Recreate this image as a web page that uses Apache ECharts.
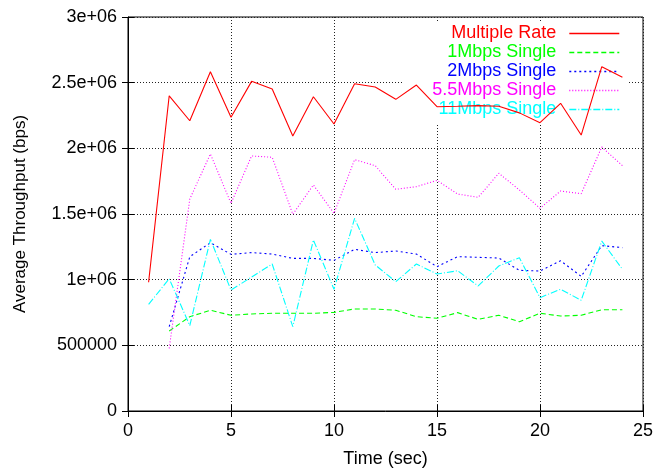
<!DOCTYPE html>
<html>
<head>
<meta charset="utf-8">
<script src="https://cdn.jsdelivr.net/npm/echarts@6/dist/echarts.min.js"></script>
<style>
  html, body { margin: 0; padding: 0; background: #fff; }
  #chart { width: 655px; height: 468px; }
</style>
</head>
<body>
<div id="chart"></div>
<script>
// x values (sec)
var timeFrom1 = [1, 2, 3, 4, 5, 6, 7, 8, 9, 10, 11, 12, 13, 14, 15, 16, 17, 18, 19, 20, 21, 22, 23, 24];
var timeFrom2 = [2, 3, 4, 5, 6, 7, 8, 9, 10, 11, 12, 13, 14, 15, 16, 17, 18, 19, 20, 21, 22, 23, 24];

// throughput (bps)
var multipleRate = [980000, 2400000, 2210000, 2583000, 2236000, 2510000, 2452000, 2094000, 2393000, 2185000, 2492000, 2467000,
  2373000, 2482000, 2317000, 2320000, 2325000, 2320000, 2270000, 2195000, 2343000, 2101000, 2622000, 2541000];
var single1 = [609000, 718000, 767000, 729000, 739000, 744000, 744000, 744000, 751000, 777000, 777000, 767000,
  718000, 706000, 749000, 698000, 729000, 680000, 744000, 723000, 729000, 771000, 771000];
var single2 = [642000, 1175000, 1281000, 1193000, 1206000, 1195000, 1162000, 1162000, 1147000, 1231000, 1206000, 1218000,
  1195000, 1099000, 1175000, 1170000, 1165000, 1071000, 1066000, 1144000, 1025000, 1259000, 1244000];
var single55 = [477000, 1614000, 1957000, 1581000, 1942000, 1932000, 1498000, 1721000, 1505000, 1914000, 1868000, 1688000,
  1708000, 1756000, 1652000, 1627000, 1810000, 1683000, 1543000, 1675000, 1655000, 2010000, 1868000];
var single11 = [812000, 1007000, 650000, 1307000, 921000, 1020000, 1119000, 642000, 1302000, 927000, 1467000, 1112000,
  985000, 1119000, 1043000, 1068000, 952000, 1104000, 1167000, 863000, 927000, 843000, 1294000, 1079000];

var seriesNames = ["Multiple Rate", "1Mbps Single", "2Mbps Single", "5.5Mbps Single", "11Mbps Single"];
var yTickLabels = ["0", "500000", "1e+06", "1.5e+06", "2e+06", "2.5e+06", "3e+06"];

var colors = ["#ff0000", "#00ff00", "#0000ff", "#ff00ff", "#00ffff"];
var dashes = ["solid", [5, 3], [2, 3], [1, 2], [7, 2, 1, 2]];
var font = "Liberation Sans";

function pairs(xs, ys) {
  var out = [];
  for (var i = 0; i < ys.length; i++) {
    out.push([xs[i], ys[i]]);
  }
  return out;
}

var seriesData = [
  pairs(timeFrom1, multipleRate),
  pairs(timeFrom2, single1),
  pairs(timeFrom2, single2),
  pairs(timeFrom2, single55),
  pairs(timeFrom1, single11)
];

var series = [];
var legendData = [];
for (var k = 0; k < seriesNames.length; k++) {
  series.push({
    name: seriesNames[k],
    type: "line",
    symbol: "none",
    animation: false,
    z: 3,
    lineStyle: { color: colors[k], width: 1.1, type: dashes[k] },
    itemStyle: { color: colors[k] },
    data: seriesData[k]
  });
  legendData.push({
    name: seriesNames[k],
    textStyle: { color: colors[k] },
    itemStyle: { color: colors[k], opacity: 0 },
    lineStyle: { color: colors[k], width: 1.4, type: dashes[k], opacity: 1 }
  });
}

var gridLine = { show: true, lineStyle: { color: "#222", width: 1, type: [1, 2] } };
var tick = { show: true, inside: true, length: 6, lineStyle: { color: "#000" } };

let option = {
  backgroundColor: "#fff",
  animation: false,
  grid: {
    left: 128, right: 12, top: 17, bottom: 57,
    outerBoundsMode: "none",
    show: true, borderColor: "#000", borderWidth: 1
  },
  legend: {
    orient: "vertical",
    right: 27, top: 21,
    align: "right",
    itemWidth: 50, itemHeight: 14, itemGap: 0,
    padding: [3, 8, 6, 29],
    backgroundColor: "#fff",
    z: 1,
    selectedMode: false,
    textStyle: { fontFamily: font, fontSize: 18, lineHeight: 19, padding: [0, 8, 0, 0] },
    data: legendData
  },
  xAxis: [
    {
      type: "value", min: 0, max: 25, interval: 5,
      name: "Time (sec)", nameLocation: "middle", nameGap: 39,
      nameTextStyle: { fontFamily: font, fontSize: 18, color: "#000" },
      axisLine: { show: true, lineStyle: { color: "#000" } },
      axisTick: tick,
      axisLabel: { margin: 11, fontFamily: font, fontSize: 18, color: "#000" },
      splitLine: gridLine
    },
    {
      type: "value", min: 0, max: 25, interval: 5, position: "top",
      axisLine: { show: false }, axisTick: tick,
      axisLabel: { show: false }, splitLine: { show: false }
    }
  ],
  yAxis: [
    {
      type: "value", min: 0, max: 3000000, interval: 500000,
      name: "Average Throughput (bps)", nameLocation: "middle", nameGap: 99,
      nameTextStyle: { fontFamily: font, fontSize: 17, color: "#000" },
      axisLine: { show: true, lineStyle: { color: "#000" } },
      axisTick: tick,
      axisLabel: {
        margin: 11, fontFamily: font, fontSize: 18, color: "#000",
        formatter: function (v) { return yTickLabels[Math.round(v / 500000)]; }
      },
      splitLine: gridLine
    },
    {
      type: "value", min: 0, max: 3000000, interval: 500000, position: "right",
      axisLine: { show: false }, axisTick: tick,
      axisLabel: { show: false }, splitLine: { show: false }
    }
  ],
  series: series
};

let myChart = echarts.init(document.getElementById("chart"), null, { renderer: "canvas" });
myChart.setOption(option);
</script>
</body>
</html>
